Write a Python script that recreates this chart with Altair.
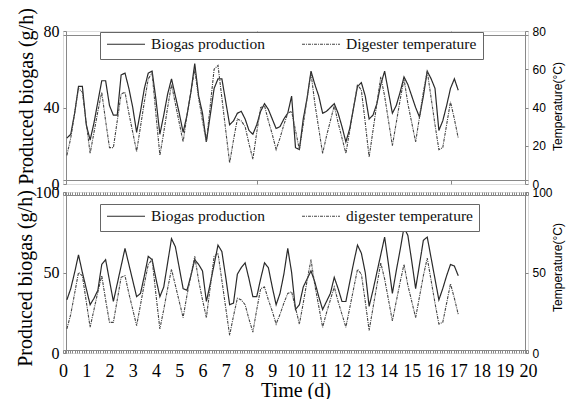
import altair as alt
import pandas as pd

# sampling every 4 hours (hours since start)
HOURS = list(range(4, 412, 4))

TEMPERATURE = [
    15, 24, 37, 50, 48, 32,
    16, 27, 38, 48, 33, 19,
    19, 33, 47, 48, 37, 27,
    17, 30, 43, 55, 58, 36,
    15, 27, 40, 52, 42, 32,
    22, 36, 48, 60, 45, 33,
    22, 41, 60, 62, 45, 28,
    11, 23, 34, 33, 30, 21,
    13, 27, 40, 41, 33, 26,
    18, 24, 31, 37, 38, 28,
    18, 31, 45, 58, 42, 29,
    16, 25, 33, 41, 32, 24,
    16, 28, 40, 52, 49, 32,
    14, 28, 42, 56, 46, 33,
    20, 32, 44, 55, 42, 32,
    22, 35, 48, 59, 45, 31,
    18, 19, 31, 43, 34, 24,
]

BIOGAS_TOP = [
    24, 26, 37, 51, 51, 31,
    23, 32, 43, 54, 54, 41,
    36, 36, 57, 58, 50, 40,
    27, 38, 50, 58, 59, 44,
    26, 36, 47, 55, 46, 37,
    27, 36, 48, 63, 46, 37,
    22, 36, 50, 55, 55, 43,
    31, 33, 37, 38, 34, 28,
    26, 31, 38, 42, 39, 34,
    29, 30, 34, 37, 46, 19,
    18, 34, 45, 59, 52, 46,
    37, 38, 40, 42, 37, 30,
    22, 29, 40, 51, 53, 46,
    34, 36, 42, 52, 59, 48,
    37, 41, 48, 56, 52, 46,
    40, 35, 46, 59, 55, 50,
    28, 33, 41, 50, 55, 49,
]

BIOGAS_BOTTOM = [
    33, 40, 50, 61, 50, 40,
    30, 34, 39, 55, 58, 45,
    32, 43, 54, 65, 55, 45,
    35, 37, 48, 60, 58, 46,
    35, 41, 56, 71, 66, 53,
    40, 39, 48, 58, 55, 51,
    32, 43, 55, 67, 63, 47,
    30, 31, 49, 53, 56, 46,
    35, 35, 46, 56, 53, 41,
    30, 37, 49, 65, 50, 27,
    30, 41, 46, 51, 44, 35,
    27, 32, 37, 47, 40, 32,
    32, 44, 56, 67, 62, 50,
    29, 39, 50, 61, 72, 55,
    37, 51, 64, 78, 73, 57,
    40, 55, 70, 72, 59, 46,
    33, 40, 48, 55, 54, 48,
]

TOP_LABELS = ["Biogas production", "Digester temperature"]
BOTTOM_LABELS = ["Biogas production", "digester temperature"]

TOP_LEFT_TICKS = [0, 40, 80]
TOP_RIGHT_TICKS = [0, 20, 40, 60, 80]
BOTTOM_TICKS = [0, 50, 100]
TOP_X_TICK_HOURS = [200, 400]

days = [h / 24 for h in HOURS]
top_x_ticks = [h / 24 for h in TOP_X_TICK_HOURS]
minor_x_ticks = [i / 10 for i in range(0, 201)]

SERIF = "Liberation Serif"
SANS = "Liberation Sans"
LINE_COLORS = ["#2a2a2a", "#444444"]
DASHES = [[1, 0], [3, 1, 1, 1]]


def make_df(bio, labels):
    return pd.DataFrame({
        "day": days + days,
        "value": bio + TEMPERATURE,
        "series": [labels[0]] * len(days) + [labels[1]] * len(days),
    })


def legend(ly):
    return alt.Legend(
        orient="none", legendX=37, legendY=ly, direction="horizontal",
        title=None, symbolType="stroke", symbolSize=1444, symbolStrokeWidth=1.2,
        clipHeight=12, labelFont=SERIF, labelFontSize=15.5, labelColor="#111",
        labelOffset=5, columnPadding=35, padding=6,
        strokeColor="#666", fillColor="white",
    )


def panel(bio, labels, ymax, left_ticks, right_ticks, height, bottom_panel,
          left_title_pad, left_title_y, right_title_y, legend_y):
    df = make_df(bio, labels)
    yscale = alt.Scale(domain=[0, ymax], nice=False, zero=False)
    xscale = alt.Scale(domain=[0, 20], nice=False, zero=False)
    color = alt.Color("series:N", scale=alt.Scale(domain=labels, range=LINE_COLORS),
                      legend=legend(legend_y))
    dash = alt.StrokeDash("series:N", scale=alt.Scale(domain=labels, range=DASHES),
                          legend=legend(legend_y))

    if bottom_panel:
        x_bottom = alt.Axis(
            orient="bottom", values=minor_x_ticks, tickSize=3, offset=-3, grid=False,
            labelExpr="datum.value == round(datum.value) ? format(datum.value, 'd') : ''",
            labelFont=SERIF, labelFontSize=18, labelPadding=9, labelOverlap=False,
            labelFlush=False, title="Time (d)", titleFont=SERIF, titleFontSize=20,
            titleFontWeight="normal", titlePadding=0,
        )
        x_top = alt.Axis(orient="top", values=minor_x_ticks, tickSize=3, offset=-3,
                         grid=False, labels=False, title=None)
    else:
        x_bottom = alt.Axis(orient="bottom", values=top_x_ticks, tickSize=4, offset=-4,
                            grid=False, labels=False, title=None)
        x_top = alt.Axis(orient="top", values=top_x_ticks, tickSize=4, offset=-4,
                         grid=False, labels=False, title=None)

    y_left = alt.Axis(
        orient="left", values=left_ticks, tickSize=3, offset=-3, labelPadding=4,
        grid=False, labelFont=SERIF, labelFontSize=16, labelOverlap=False,
        labelFlush=False, title="Produced biogas (g/h)", titleFont=SERIF,
        titleFontSize=20, titleFontWeight="normal", titlePadding=left_title_pad,
        titleY=left_title_y,
    )
    y_right = alt.Axis(
        orient="right", values=right_ticks, tickSize=3, offset=-3, labelPadding=4,
        grid=False, labelFont=SANS, labelFontSize=12, labelOverlap=False,
        labelFlush=False, title="Temperature(°C)", titleFont=SANS, titleFontSize=12,
        titleAngle=270, titleBaseline="top", titleFontWeight="normal",
        titleX=27, titleY=right_title_y,
    )

    solid = alt.Chart(df).transform_filter(
        alt.datum.series == labels[0]
    ).mark_line(strokeWidth=1.2).encode(
        x=alt.X("day:Q", scale=xscale, axis=x_bottom),
        y=alt.Y("value:Q", scale=yscale, axis=y_left),
        color=color, strokeDash=dash,
    )
    dashed = alt.Chart(df).transform_filter(
        alt.datum.series == labels[1]
    ).mark_line(strokeWidth=1.1).encode(
        x=alt.X("day:Q", scale=xscale, axis=x_top),
        y=alt.Y("value:Q", scale=yscale, axis=y_right),
        color=color, strokeDash=dash,
    )
    return alt.layer(solid, dashed).resolve_axis(x="independent", y="independent").properties(
        width=465, height=height
    )


top = panel(BIOGAS_TOP, TOP_LABELS, 80, TOP_LEFT_TICKS, TOP_RIGHT_TICKS, 153, False,
            7, 65, 75, 1)
bottom = panel(BIOGAS_BOTTOM, BOTTOM_LABELS, 100, BOTTOM_TICKS, BOTTOM_TICKS, 161, True,
               0, 86, 75, 12)

chart = alt.vconcat(top, bottom, spacing=8, bounds="flush").resolve_scale(
    color="independent", strokeDash="independent"
).resolve_legend(
    color="independent", strokeDash="independent"
).properties(
    padding={"left": 14, "top": 7, "right": 5, "bottom": 0}
).configure_view(
    stroke="#6a6a6a", strokeWidth=1.3
).configure_axis(
    domain=False, grid=False, tickColor="#444", labelColor="#111", titleColor="#111"
).configure(background="white")

chart.save("out.html", embed_options={"renderer": "svg", "actions": False})
